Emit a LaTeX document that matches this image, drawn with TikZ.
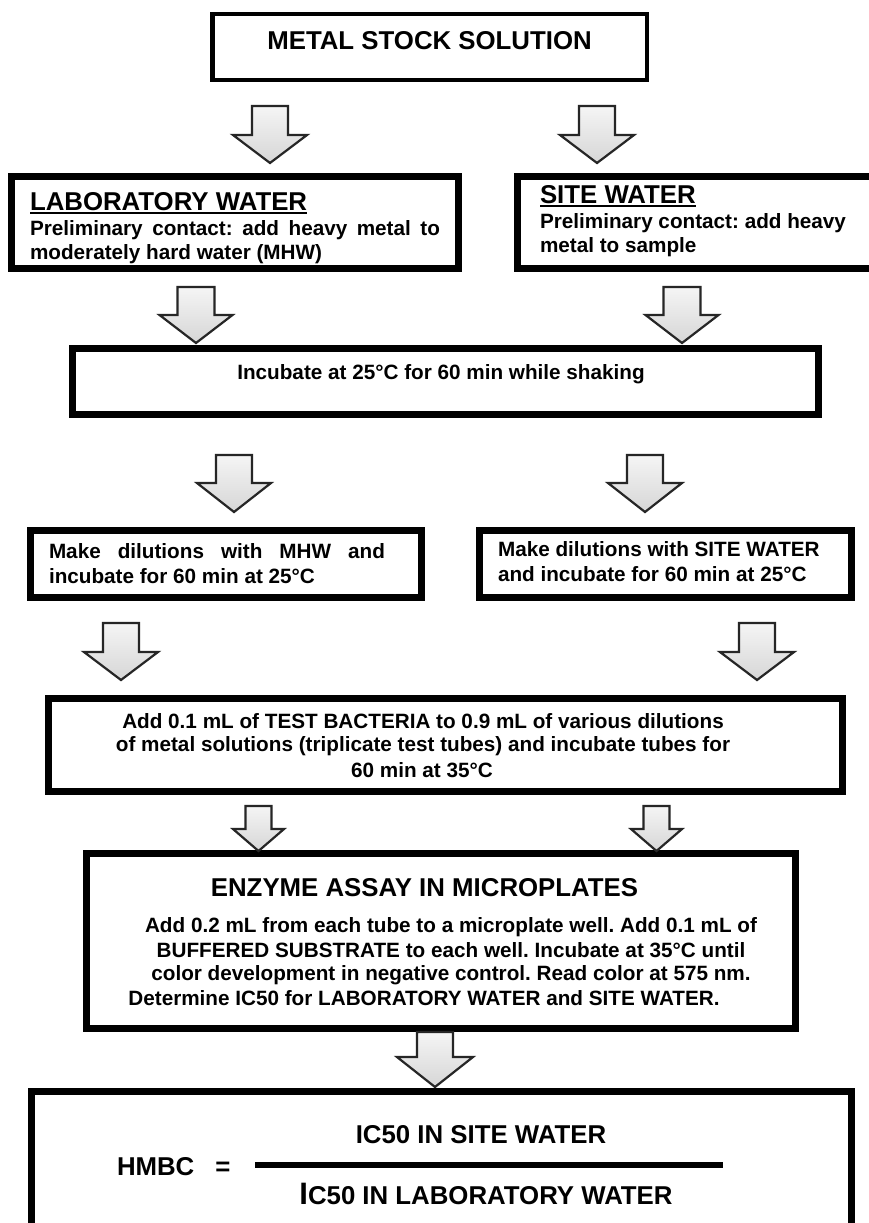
\documentclass[tikz,border=0pt]{standalone}
\usepackage{fontspec}
\setmainfont{Liberation Sans}
\frenchspacing
\tikzset{
  headtxt/.style={font=\bfseries\fontsize{25.8}{30}\selectfont, inner sep=0pt, outer sep=0pt},
  bodytxt/.style={font=\bfseries\fontsize{20.7}{24.5}\selectfont, inner sep=0pt, outer sep=0pt},
  flowbox/.style={draw=black, line width=7pt, rectangle, inner sep=0pt, outer sep=0pt, fill=white},
  thinbox/.style={flowbox, line width=4.5pt},
  barrowstyle/.style={draw=black!85, line width=2.2pt, line join=miter, top color=gray!8, bottom color=gray!32},
  uline/.style={line width=2.4pt}
}
% block arrow: x, y top, y head base, y tip, half shaft width, half head width
\newcommand\blockarrow[6]{%
  \draw[barrowstyle] (#1-#5,#2) -- (#1+#5,#2) -- (#1+#5,#3) -- (#1+#6,#3) -- (#1,#4) -- (#1-#6,#3) -- (#1-#5,#3) -- cycle;}
\begin{document}
\begin{tikzpicture}[x=1pt,y=-1pt]
\useasboundingbox (0,0) rectangle (868,1223);
\fill[white] (0,0) rectangle (868,1223);

% boxes
\node[thinbox, minimum width=434.5pt, minimum height=65.5pt] (metal) at (429.5,47) {};
\node[flowbox, minimum width=447pt, minimum height=92pt] (lab) at (235,222.5) {};
\node[flowbox, minimum width=359pt, minimum height=92pt] (site) at (697,222.5) {};
\node[flowbox, minimum width=746pt, minimum height=66pt] (incub) at (445.5,381.5) {};
\node[flowbox, minimum width=391pt, minimum height=67pt] (mkl) at (226,564) {};
\node[flowbox, minimum width=372pt, minimum height=67pt] (mkr) at (665.5,564) {};
\node[flowbox, minimum width=794pt, minimum height=93pt] (addb) at (445.5,745) {};
\node[flowbox, minimum width=709pt, minimum height=175pt] (enz) at (441,941) {};
\node[flowbox, minimum width=820pt, minimum height=145pt] (hmbc) at (441.5,1164) {};

% texts
\node[headtxt, anchor=base] (metalt) at (429.5,50) {METAL STOCK SOLUTION};

\node[headtxt, anchor=base west] (labh) at (30,210) {LABORATORY WATER};
\draw[uline] ([yshift=-3pt]labh.base west) -- ([yshift=-3pt]labh.base east);
\node[bodytxt, anchor=base west] (lab1) at (30,235) {\makebox[410pt][s]{Preliminary contact: add heavy metal to}};
\node[bodytxt, anchor=base west] (lab2) at (30,259) {moderately hard water (MHW)};

\node[headtxt, anchor=base west] (siteh) at (540,203) {SITE WATER};
\draw[uline] ([yshift=-3pt]siteh.base west) -- ([yshift=-3pt]siteh.base east);
\node[bodytxt, anchor=base west] (site1) at (540,228) {Preliminary contact: add heavy};
\node[bodytxt, anchor=base west] (site2) at (540,252) {metal to sample};

\node[bodytxt, anchor=base] (incubt) at (441,379) {Incubate at 25°C for 60 min while shaking};

\node[bodytxt, anchor=base west] (mkl1) at (49,558) {\makebox[336pt][s]{Make dilutions with MHW and}};
\node[bodytxt, anchor=base west] (mkl2) at (49,583) {incubate for 60 min at 25°C};

\node[bodytxt, anchor=base west] (mkr1) at (498,556) {Make dilutions with SITE WATER};
\node[bodytxt, anchor=base west] (mkr2) at (498,581) {and incubate for 60 min at 25°C};

\node[bodytxt, anchor=base] (add1) at (423,728) {Add 0.1 mL of TEST BACTERIA to 0.9 mL of various dilutions};
\node[bodytxt, anchor=base] (add2) at (423,751) {of metal solutions (triplicate test tubes) and incubate tubes for};
\node[bodytxt, anchor=base] (add3) at (422,777) {60 min at 35°C};

\node[headtxt, anchor=base] (enzh) at (424.5,896) {ENZYME ASSAY IN MICROPLATES};
\node[bodytxt, anchor=base] (enz1) at (451,932) {Add 0.2 mL from each tube to a microplate well. Add 0.1 mL of};
\node[bodytxt, anchor=base] (enz2) at (451,957) {BUFFERED SUBSTRATE to each well. Incubate at 35°C until};
\node[bodytxt, anchor=base] (enz3) at (451,980) {color development in negative control. Read color at 575 nm.};
\node[bodytxt, anchor=base] (enz4) at (424,1005) {Determine IC50 for LABORATORY WATER and SITE WATER.};

\node[headtxt, anchor=base west] (hm) at (117,1175) {HMBC};
\node[headtxt, anchor=base] (eq) at (223,1175) {=};
\coordinate (fracl) at (255,1165);
\coordinate (fracr) at (723,1165);
\draw[line width=6pt] (fracl) -- (fracr);
\node[headtxt, anchor=base] (num) at (481,1143) {IC50 IN SITE WATER};
\node[headtxt, anchor=base] (den) at (486,1204) {{\fontsize{31}{31}\selectfont I}C50 IN LABORATORY WATER};

% block arrows
\blockarrow{270}{106}{135}{163}{18}{37}
\blockarrow{597}{106}{135}{163}{18}{37}
\blockarrow{196}{287}{315}{343}{18.5}{36.5}
\blockarrow{682}{287}{315}{343}{18.5}{36.5}
\blockarrow{234}{455}{483}{512}{18}{37}
\blockarrow{645}{455}{483}{512}{18}{37}
\blockarrow{121}{623}{652}{680}{18}{37}
\blockarrow{757}{623}{652}{680}{18}{37}
\blockarrow{258.5}{806}{829}{851}{13}{25.5}
\blockarrow{656.5}{806}{829}{851}{13}{25.5}
\blockarrow{435}{1032}{1057}{1087}{18}{38}
\end{tikzpicture}
\end{document}
